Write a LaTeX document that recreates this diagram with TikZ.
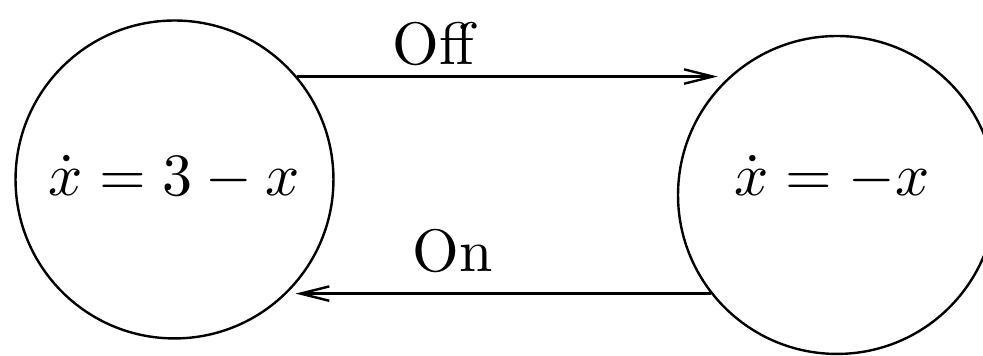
\documentclass[tikz,border=0pt]{standalone}
\usepackage{amsmath}
\usetikzlibrary{arrows.meta,calc}
\tikzset{
  mode/.style     = {draw,circle,minimum size=53pt,inner sep=0pt},
  eqn/.style      = {anchor=base,inner sep=0pt},
  trans/.style    = {-{Straight Barb[length=4.8pt,width=2.4pt]},line width=0.4pt},
  translbl/.style = {anchor=base,inner sep=0pt},
}

\begin{document}
\begin{tikzpicture}[x=0.1667pt,y=-0.1667pt]
  \useasboundingbox (0,0) rectangle (983,356);

  % the two modes
  \node[mode] (heat) at (174.5,179.5) {};
  \node[mode] (cool) at (837,195) {};
  \node[eqn] (heateq) at (174,196) {$\dot x = 3 - x$};
  \node[eqn] (cooleq) at (832,196) {$\dot x = -x$};

  % switching
  \draw[trans,shorten >=2pt] (heat.40) -- (heat.40 -| cool.132);
  \draw[trans,shorten >=1.3pt] (cool.218) -- (cool.218 -| heat.-45);
  \node[translbl] (off) at (433.5,65) {Off};
  \node[translbl] (on) at (453,272) {On};
\end{tikzpicture}
\end{document}
